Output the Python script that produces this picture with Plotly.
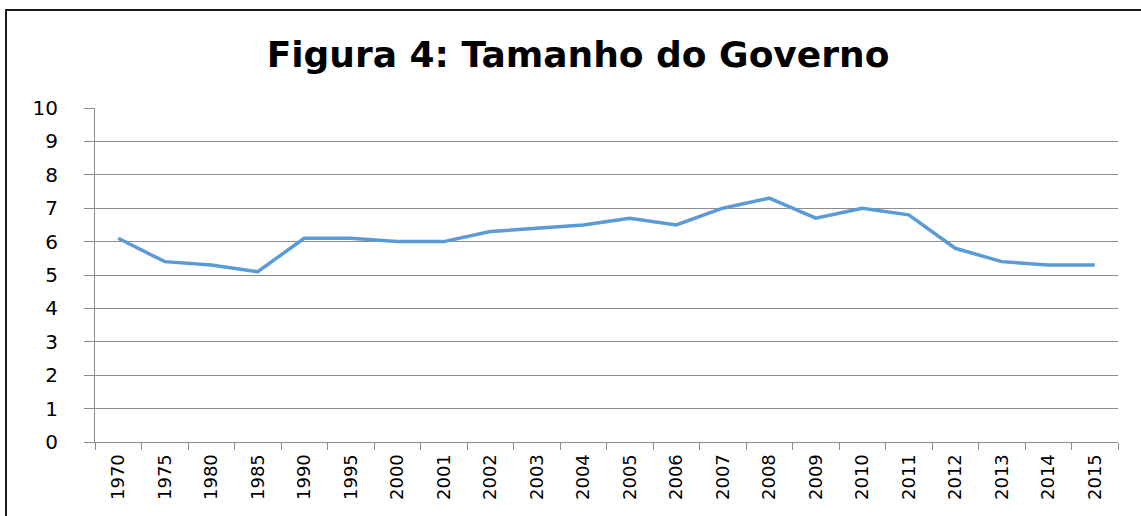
import plotly.graph_objects as go

years = ["1970", "1975", "1980", "1985", "1990", "1995", "2000", "2001", "2002", "2003",
         "2004", "2005", "2006", "2007", "2008", "2009", "2010", "2011", "2012", "2013",
         "2014", "2015"]
values = [6.1, 5.4, 5.3, 5.1, 6.1, 6.1, 6.0, 6.0, 6.3, 6.4,
          6.5, 6.7, 6.5, 7.0, 7.3, 6.7, 7.0, 6.8, 5.8, 5.4,
          5.3, 5.3]
y_ticks = [0, 1, 2, 3, 4, 5, 6, 7, 8, 9, 10]
title_text = "Figura 4: Tamanho do Governo"

W, H = 1141, 516
ml, mr, mt, mb = 95, 23, 108, 74
pw = W - ml - mr
ph = H - mt - mb

fig = go.Figure()
fig.add_trace(go.Scatter(x=years, y=values, mode="lines",
                         line=dict(color="#5B9BD5", width=3.5), showlegend=False,
                         hoverinfo="x+y"))

fig.update_layout(
    width=W, height=H,
    margin=dict(l=ml, r=mr, t=mt, b=mb, pad=0),
    paper_bgcolor="white", plot_bgcolor="white",
    font=dict(family="DejaVu Sans, sans-serif", color="#000000"),
    title=dict(text="<b>" + title_text + "</b>", x=(578 - ml) / pw, xref="paper",
               xanchor="center", y=1 - 54 / H, yanchor="middle",
               font=dict(size=36, color="#000000", family="DejaVu Sans, sans-serif")),
    xaxis=dict(type="category", tickangle=-90, tickson="boundaries",
               ticks="outside", ticklen=7, tickcolor="#8c8c8c", tickwidth=1,
               showline=True, linecolor="#8c8c8c", linewidth=1,
               showgrid=False, tickfont=dict(size=18, color="#000000"),
               ticklabelstandoff=4,
               range=[-0.5, len(years) - 0.5]),
    yaxis=dict(range=[0, 10], tickvals=y_ticks, ticks="outside", ticklen=10,
               tickcolor="#8c8c8c", showline=True, linecolor="#8c8c8c", linewidth=1,
               gridcolor="#8c8c8c", gridwidth=1, zeroline=False,
               ticklabelstandoff=22,
               tickfont=dict(size=20, color="#000000")),
    shapes=[dict(type="rect", xref="paper", yref="paper",
                 x0=(6 - ml) / pw, x1=(W + 10 - ml) / pw,
                 y0=-(H + 10 - mt - ph) / ph, y1=(mt + ph - 10) / ph,
                 line=dict(color="#1a1a1a", width=2), fillcolor="rgba(0,0,0,0)",
                 layer="below")],
)

fig.write_html("out.html", config={"displayModeBar": False},
               post_script="document.body.style.margin='0px';")
